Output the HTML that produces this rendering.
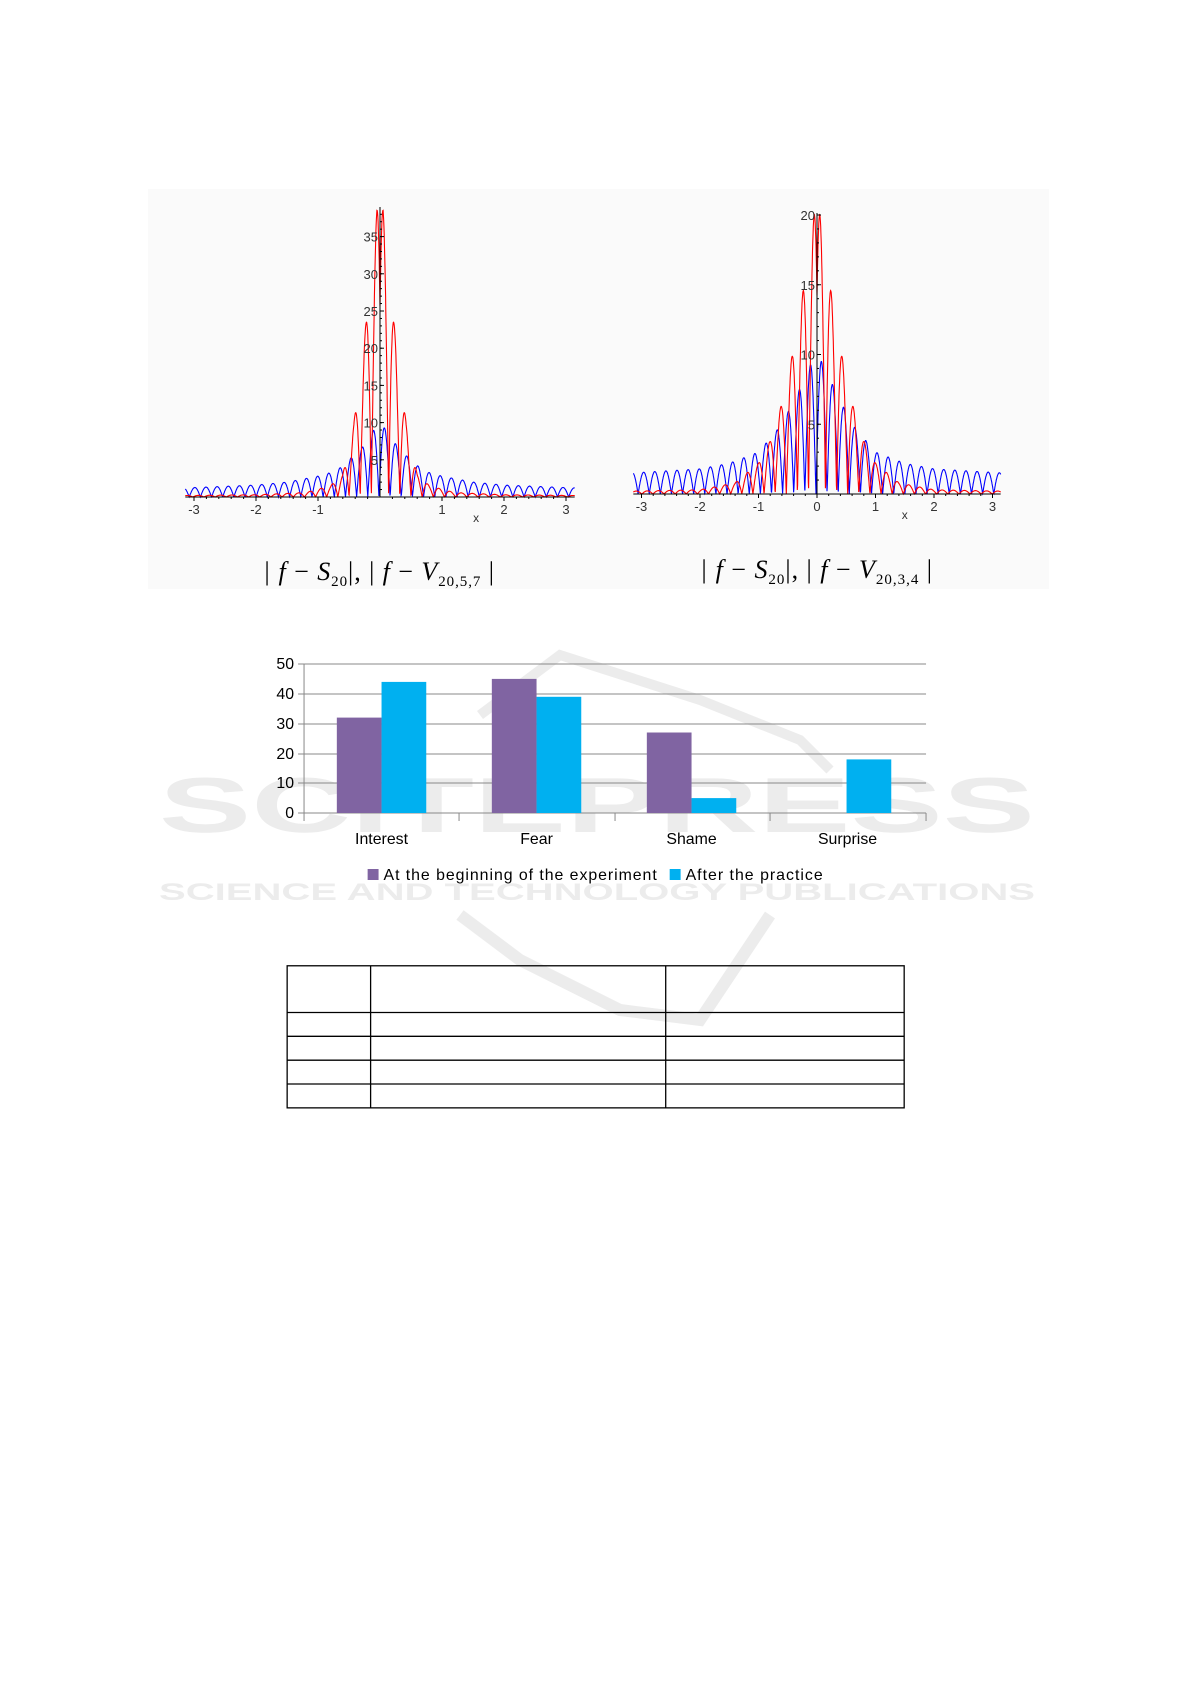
<!DOCTYPE html>
<html><head><meta charset="utf-8"><style>
html,body{margin:0;padding:0;background:#fff}
body{width:1191px;height:1684px;position:relative;overflow:hidden;font-family:"Liberation Sans",sans-serif}
</style></head><body>
<svg width="1191" height="1684" viewBox="0 0 1191 1684" xmlns="http://www.w3.org/2000/svg" style="position:absolute;left:0;top:0">
<rect x="148" y="189" width="901" height="400" fill="#fafafa"/>
<!-- watermark -->
<text x="597" y="832" text-anchor="middle" font-family="Liberation Sans" font-weight="bold" font-size="78" fill="#ececec" textLength="876" lengthAdjust="spacingAndGlyphs">SCITEPRESS</text>
<text x="597" y="900" text-anchor="middle" font-family="Liberation Sans" font-weight="bold" font-size="24" fill="#ececec" textLength="876" lengthAdjust="spacingAndGlyphs">SCIENCE AND TECHNOLOGY PUBLICATIONS</text>
<path d="M480 715 L560 655 L700 700 L800 740 L830 770" fill="none" stroke="#ececec" stroke-width="10"/>
<path d="M460 915 L520 960 L620 1010 L700 1020 L770 915" fill="none" stroke="#ececec" stroke-width="12"/>

<g id="plots" font-family="Liberation Sans" font-size="13" fill="#333"></g>

<!-- captions -->
<g font-family="Liberation Serif" font-style="italic" font-size="26" fill="#000">
<text x="263" y="580" textLength="231" lengthAdjust="spacing">| <tspan>f</tspan> <tspan font-style="normal">−</tspan> S<tspan font-size="15" font-style="normal" dy="6">20</tspan><tspan dy="-6" font-style="normal">|,</tspan>    <tspan font-style="normal">|</tspan> f <tspan font-style="normal">−</tspan> V<tspan font-size="15" font-style="normal" dy="6">20,5,7</tspan><tspan dy="-6" font-style="normal"> |</tspan></text>
<text x="700" y="578" textLength="232" lengthAdjust="spacing">| <tspan>f</tspan> <tspan font-style="normal">−</tspan> S<tspan font-size="15" font-style="normal" dy="6">20</tspan><tspan dy="-6" font-style="normal">|,</tspan>    <tspan font-style="normal">|</tspan> f <tspan font-style="normal">−</tspan> V<tspan font-size="15" font-style="normal" dy="6">20,3,4</tspan><tspan dy="-6" font-style="normal"> |</tspan></text>
</g>

<!-- bar chart -->
<g transform="scale(0.9936,1)">
<g stroke="#888" stroke-width="1">
<line x1="306" y1="664" x2="932" y2="664"/>
<line x1="306" y1="694" x2="932" y2="694"/>
<line x1="306" y1="724" x2="932" y2="724"/>
<line x1="306" y1="754" x2="932" y2="754"/>
<line x1="306" y1="783" x2="932" y2="783"/>
<line x1="306" y1="813" x2="932" y2="813"/>
<line x1="300" y1="664" x2="306" y2="664"/><line x1="300" y1="694" x2="306" y2="694"/><line x1="300" y1="724" x2="306" y2="724"/><line x1="300" y1="754" x2="306" y2="754"/><line x1="300" y1="783" x2="306" y2="783"/><line x1="300" y1="813" x2="306" y2="813"/>
<line x1="306" y1="664" x2="306" y2="821"/>
<line x1="462" y1="813" x2="462" y2="821"/><line x1="619" y1="813" x2="619" y2="821"/><line x1="775" y1="813" x2="775" y2="821"/><line x1="932" y1="813" x2="932" y2="821"/>
</g>
<g>
<rect x="339" y="717.6" width="45" height="95.4" fill="#8064a2"/>
<rect x="384" y="681.9" width="45" height="131.1" fill="#00b0f0"/>
<rect x="495" y="678.9" width="45" height="134.1" fill="#8064a2"/>
<rect x="540" y="696.8" width="45" height="116.2" fill="#00b0f0"/>
<rect x="651" y="732.5" width="45" height="80.5" fill="#8064a2"/>
<rect x="696" y="798.1" width="45" height="14.9" fill="#00b0f0"/>
<rect x="852" y="759.4" width="45" height="53.6" fill="#00b0f0"/>
</g>
<g font-family="Liberation Sans" font-size="16" fill="#000">
<text x="296" y="669" text-anchor="end">50</text>
<text x="296" y="699" text-anchor="end">40</text>
<text x="296" y="729" text-anchor="end">30</text>
<text x="296" y="759" text-anchor="end">20</text>
<text x="296" y="788" text-anchor="end">10</text>
<text x="296" y="818" text-anchor="end">0</text>
<text x="384" y="844" text-anchor="middle">Interest</text>
<text x="540" y="844" text-anchor="middle">Fear</text>
<text x="696" y="844" text-anchor="middle">Shame</text>
<text x="853" y="844" text-anchor="middle">Surprise</text>
<rect x="370" y="869" width="11" height="11" fill="#8064a2"/>
<text x="386" y="880" textLength="275" lengthAdjust="spacing">At the beginning of the experiment</text>
<rect x="674" y="869" width="11" height="11" fill="#00b0f0"/>
<text x="690" y="880" textLength="138" lengthAdjust="spacing">After the practice</text>
</g>
</g>

<!-- table -->
<g stroke="#000" stroke-width="1.3" fill="none" transform="scale(0.9936)">
<rect x="289" y="972" width="621" height="143"/>
<line x1="289" y1="1019" x2="910" y2="1019"/>
<line x1="289" y1="1043" x2="910" y2="1043"/>
<line x1="289" y1="1067" x2="910" y2="1067"/>
<line x1="289" y1="1091" x2="910" y2="1091"/>
<line x1="373" y1="972" x2="373" y2="1115"/>
<line x1="670" y1="972" x2="670" y2="1115"/>
</g>
</svg>
<script>
(function(){
var NS="http://www.w3.org/2000/svg",g=document.getElementById("plots");
function el(n,a,t){var e=document.createElementNS(NS,n);for(var k in a)e.setAttribute(k,a[k]);if(t!==undefined)e.textContent=t;g.appendChild(e);return e;}
function interp(pts,x){x=Math.abs(x);for(var i=0;i<pts.length-1;i++){if(x<=pts[i+1][0]){var t=(x-pts[i][0])/(pts[i+1][0]-pts[i][0]);return pts[i][1]+t*(pts[i+1][1]-pts[i][1]);}}return pts[pts.length-1][1];}
function plot(P){
 var sx=function(x){return P.x0+x*P.kx},sy=function(y){return P.y0-y*P.ky};
 var b="",r="";
 for(var i=0;i<=1400;i++){var x=-3.14+6.28*i/1400;
  var vb=interp(P.benv,x)*Math.abs(Math.sin(Math.PI*x/P.bp+0.3));
  b+=(i?"L":"M")+sx(x).toFixed(1)+" "+sy(vb).toFixed(1);
  var vr=interp(P.renv,x)*Math.abs(Math.cos(Math.PI*(Math.abs(x)-0.05)/P.rp));
  r+=(i?"L":"M")+sx(x).toFixed(1)+" "+sy(vr).toFixed(1);}
 el("path",{d:b,fill:"none",stroke:"#0000ff","stroke-width":"1.1"});
 el("path",{d:r,fill:"none",stroke:"#ff0000","stroke-width":"1.1"});
 el("line",{x1:sx(-3.14),y1:P.y0,x2:sx(3.14),y2:P.y0,stroke:"#000","stroke-width":"1"});
 el("line",{x1:P.ax,y1:P.y0,x2:P.ax,y2:P.ytop,stroke:"#000","stroke-width":"1"});
 for(var k=-3;k<=3;k++){ if(k===0&&!P.zero)continue;
  el("line",{x1:sx(k),y1:P.y0,x2:sx(k),y2:P.y0+4,stroke:"#000"});
  el("text",{x:sx(k),y:P.y0+17,"text-anchor":"middle"},k<0?"-"+(-k):(k===0?"0":""+k));}
 for(var t=0.2;t<=3;t+=0.2){el("line",{x1:sx(t),y1:P.y0,x2:sx(t),y2:P.y0+2,stroke:"#000"});el("line",{x1:sx(-t),y1:P.y0,x2:sx(-t),y2:P.y0+2,stroke:"#000"});}
 el("text",{x:sx(P.xl),y:P.y0+25,"text-anchor":"middle","font-size":"12"},"x");
 P.yt.forEach(function(v){el("line",{x1:P.ax,y1:sy(v),x2:P.ax+4,y2:sy(v),stroke:"#000"});el("text",{x:P.ax-2,y:sy(v)+5,"text-anchor":"end"},""+v);});
 for(var v=1;v<P.ymax;v++){el("line",{x1:P.ax,y1:sy(v),x2:P.ax+2,y2:sy(v),stroke:"#000"});}
}
plot({x0:380,kx:62,y0:497,ky:7.44,ax:380,ytop:207,ymax:39,yt:[5,10,15,20,25,30,35],xl:1.55,zero:false,bp:0.18,rp:0.18,
 benv:[[0,10],[0.15,8.5],[0.3,6.5],[0.5,5],[0.7,3.5],[1,2.8],[1.5,2],[2,1.6],[3.2,1.2]],
 renv:[[0,40],[0.05,38.5],[0.23,23],[0.42,10],[0.6,3],[0.8,1.5],[1.2,0.6],[2,0.3],[3.2,0.2]]});
plot({x0:817,kx:58.5,y0:494,ky:13.95,ax:817,ytop:213,ymax:20,yt:[5,10,15,20],xl:1.5,zero:true,bp:0.19,rp:0.19,
 benv:[[0,10],[0.15,9],[0.3,7.5],[0.6,5],[1,3],[1.5,2.2],[2,1.8],[3.2,1.5]],
 renv:[[0,21],[0.05,20],[0.22,15],[0.42,10],[0.6,6.5],[0.8,3.8],[1.0,2.2],[1.4,0.8],[2,0.3],[3.2,0.2]]});
})();
</script>
</body></html>
